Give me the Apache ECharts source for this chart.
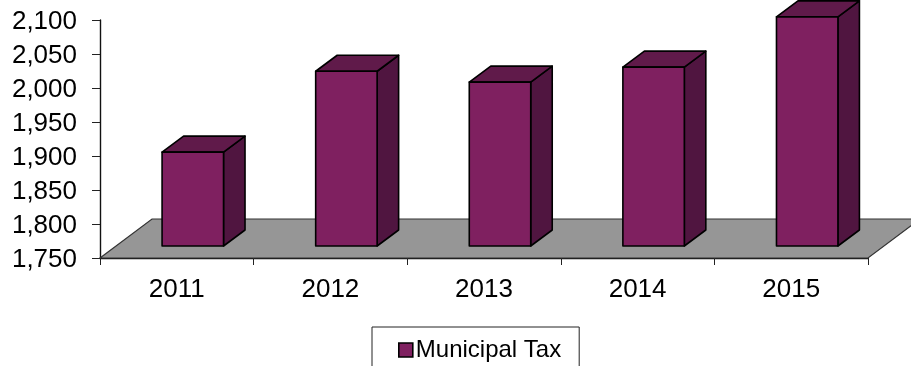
<!DOCTYPE html>
<html>
<head>
<meta charset="utf-8">
<style>html,body{margin:0;padding:0;background:#fff;overflow:hidden}#c{width:911px;height:366px}</style>
<script src="https://cdn.jsdelivr.net/npm/echarts@6/dist/echarts.min.js"></script>
</head>
<body>
<div id="c"></div>
<script>
const years = ['2011', '2012', '2013', '2014', '2015'];
const municipalTax = [1888, 2007, 1991, 2013, 2087];
const seriesName = 'Municipal Tax';

const FONT = '"Liberation Sans", Arial, sans-serif';
const INK = '#000';
const FRONT = '#7f2060', TOP = '#601a4a', SIDE = '#501540', FLOOR = '#969696';

// Oblique projection: how far the box depth runs, and how far the plinth recedes.
const DEPTH_X = 21.5, DEPTH_Y = 16;
const FLOOR_X = 52, FLOOR_Y = 39;
const BAR_SHIFT_X = 16, BAR_LIFT = 12, BAR_WIDTH_RATIO = 0.4;

function face(points, fill) {
  return {
    type: 'polygon',
    shape: { points },
    style: { fill, stroke: INK, lineWidth: 1.6, lineJoin: 'round' }
  };
}

function renderBox(params, api) {
  const cat = api.value(0);
  const base = api.coord([cat, 1750]);
  const head = api.coord([cat, api.value(1)]);
  const w = api.size([1, 0])[0] * BAR_WIDTH_RATIO;
  const l = base[0] + BAR_SHIFT_X - w / 2, r = l + w;
  const b = base[1] - BAR_LIFT, t = head[1] - BAR_LIFT;
  return {
    type: 'group',
    children: [
      face([[r, t], [r + DEPTH_X, t - DEPTH_Y], [r + DEPTH_X, b - DEPTH_Y], [r, b]], SIDE),
      face([[l, t], [l + DEPTH_X, t - DEPTH_Y], [r + DEPTH_X, t - DEPTH_Y], [r, t]], TOP),
      face([[l, t], [r, t], [r, b], [l, b]], FRONT)
    ]
  };
}

function renderFloor(params) {
  const g = params.coordSys;
  const y = g.y + g.height, x2 = g.x + g.width;
  return {
    type: 'polygon',
    shape: { points: [[g.x, y], [g.x + FLOOR_X, y - FLOOR_Y], [x2 + FLOOR_X, y - FLOOR_Y], [x2, y]] },
    style: { fill: FLOOR, stroke: '#333', lineWidth: 1.2 }
  };
}

const chart = echarts.init(document.getElementById('c'), null, { renderer: 'canvas' });
chart.setOption({
  animation: false,
  backgroundColor: '#fff',
  textStyle: { fontFamily: FONT },
  grid: { left: 100, top: 20, width: 768, height: 238, containLabel: false },
  legend: {
    data: [{ name: seriesName, icon: 'rect' }],
    left: 372,
    top: 327,
    width: 207,
    padding: [11, 18, 40, 26],
    itemWidth: 14,
    itemHeight: 14,
    itemGap: 0,
    borderColor: '#222',
    borderWidth: 1,
    textStyle: { fontSize: 24, fontFamily: FONT, color: INK, padding: [0, 0, 0, -2] },
    itemStyle: { color: FRONT, borderColor: INK, borderWidth: 1.6 }
  },
  xAxis: {
    type: 'category',
    data: years,
    axisLine: { onZero: false, lineStyle: { color: '#111', width: 1.4 } },
    axisTick: { show: true, alignWithLabel: false, length: 7, lineStyle: { color: '#222' } },
    axisLabel: { fontSize: 26, color: INK, fontFamily: FONT, margin: 19 },
    splitLine: { show: false }
  },
  yAxis: {
    type: 'value',
    min: 1750,
    max: 2100,
    interval: 50,
    axisLine: { show: true, lineStyle: { color: '#111', width: 1.4 } },
    axisTick: { show: true, length: 8, lineStyle: { color: '#222' } },
    axisLabel: {
      fontSize: 26, color: INK, fontFamily: FONT, margin: 23,
      verticalAlign: 'top',
      padding: [-11, 0, 0, 0],
      formatter: v => v.toLocaleString('en-US')
    },
    splitLine: { show: false }
  },
  series: [
    {
      type: 'custom',
      name: 'Floor',
      silent: true,
      clip: false,
      z: 1,
      renderItem: renderFloor,
      data: [[0, 1750]],
      encode: { x: 0, y: 1 }
    },
    {
      type: 'custom',
      name: seriesName,
      clip: false,
      z: 3,
      itemStyle: { color: FRONT },
      renderItem: renderBox,
      data: municipalTax.map((v, i) => [i, v]),
      encode: { x: 0, y: 1 }
    }
  ]
});
</script>
</body>
</html>
